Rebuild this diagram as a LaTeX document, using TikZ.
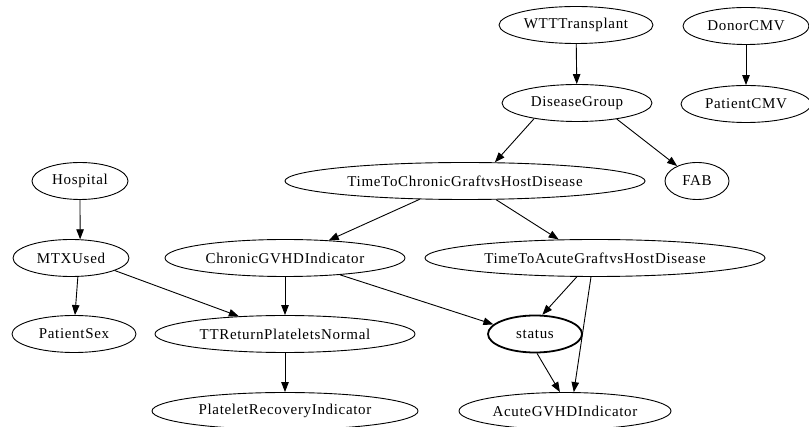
\documentclass[tikz,border=0pt]{standalone}
\usepackage{fontspec}
\setmainfont[LetterSpace=4.5]{Liberation Serif}
\usepackage{tikz}
\usetikzlibrary{shapes, arrows.meta, positioning, calc}

\begin{document}
\begin{tikzpicture}[
    x=1pt, y=-1pt,
    font=\fontsize{15}{18}\selectfont,
    var_node/.style={ellipse, draw, line width=0.9pt, inner sep=0pt, minimum height=37pt},
    key_node/.style={var_node, line width=1.8pt},
    edge/.style={-{Triangle[length=10pt, width=7.5pt]}, line width=0.9pt}
    ]
    \useasboundingbox (0,0) rectangle (809,427);

    % Nodes
    \node[var_node, minimum width=154pt] (wtt) at (576,25) {WTTTransplant};
    \node[var_node, minimum width=126pt] (dcmv) at (746,26) {DonorCMV};
    \node[var_node, minimum width=150pt] (dg) at (577,103) {DiseaseGroup};
    \node[var_node, minimum width=130pt] (pcmv) at (746,104) {PatientCMV};
    \node[var_node, minimum width=96pt] (hosp) at (80,181) {Hospital};
    \node[var_node, minimum width=360pt] (ttc) at (465,181) {TimeToChronicGraftvsHostDisease};
    \node[var_node, minimum width=64pt] (fab) at (697,181) {FAB};
    \node[var_node, minimum width=116pt] (mtx) at (71,258) {MTXUsed};
    \node[var_node, minimum width=240pt] (cg) at (285,258) {ChronicGVHDIndicator};
    \node[var_node, minimum width=340pt] (tta) at (595,258) {TimeToAcuteGraftvsHostDisease};
    \node[var_node, minimum width=124pt] (psex) at (74,334) {PatientSex};
    \node[var_node, minimum width=260pt] (ttr) at (285,334) {TTReturnPlateletsNormal};
    \node[key_node, minimum width=94pt] (stat) at (535,334) {status};
    \node[var_node, minimum width=266pt] (pri) at (285,411) {PlateletRecoveryIndicator};
    \node[var_node, minimum width=212pt] (ag) at (565,411) {AcuteGVHDIndicator};

    % Arrows
    \draw[edge] (wtt) -- (dg);
    \draw[edge] (dcmv) -- (pcmv);
    \draw[edge] (dg.200) -- (ttc.32);
    \draw[edge] (dg.338) -- (fab.143);
    \draw[edge] (hosp.south) -- (mtx.64);
    \draw[edge] (ttc.202) -- (cg.22);
    \draw[edge] (ttc.329) -- (tta.153);
    \draw[edge] (mtx.290) -- (psex.87);
    \draw[edge] (mtx.344) -- (ttr.159);
    \draw[edge] (cg) -- (ttr);
    \draw[edge] (cg.343) -- (stat.167);
    \draw[edge] (tta.226) -- (stat.69);
    \draw[edge] (tta.258) -- (ag.65);
    \draw[edge] (stat.276) -- (ag.105);
    \draw[edge] (ttr) -- (pri);
\end{tikzpicture}
\end{document}
